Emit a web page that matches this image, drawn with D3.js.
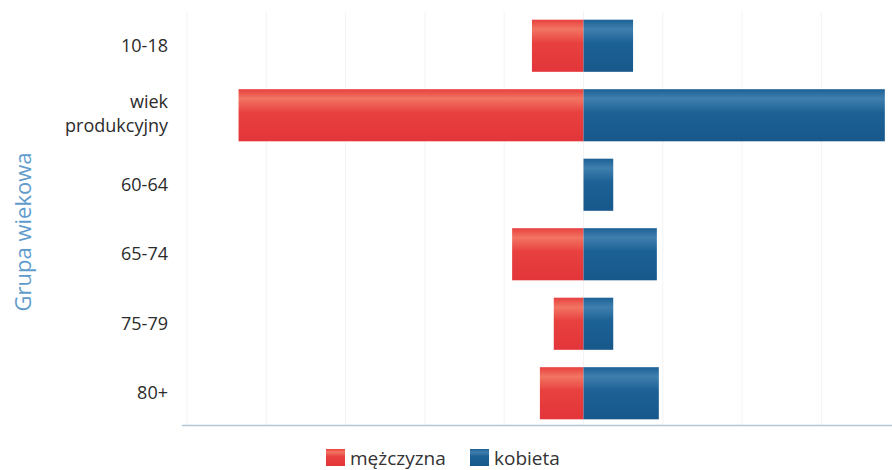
<!DOCTYPE html>
<html>
<head>
<meta charset="utf-8">
<script src="https://cdn.jsdelivr.net/npm/d3@7"></script>
<style>
  body { margin: 0; background: #fff; }
  svg { display: block; font-family: "Open Sans", sans-serif; }
</style>
</head>
<body>
<svg id="chart" width="892" height="470"></svg>
<script>
const width = 892,
  height = 470;

// age groups, top to bottom
const groups = ["10-18", "wiek produkcyjny", "60-64", "65-74", "75-79", "80+"];
const men = [26, 174, 0, 36, 15, 22];
const women = [25, 152, 15, 37, 15, 38];
const seriesNames = ["mężczyzna", "kobieta"];
const xTicks = [-200, -160, -120, -80, -40, 0, 40, 80, 120, 160, 200];

const svg = d3.select("#chart");

// plot continues past the right edge of the picture (it is cropped)
const x = d3.scaleLinear().domain([-200, 200]).range([187, 980]);
const y = d3.scaleBand().domain(groups).range([11, 428]).paddingInner(0.25).paddingOuter(0.125);

// gradients for the slightly glossy bars
const defs = svg.append("defs");
const addGrad = (id, light, base, dark) => {
  const g = defs.append("linearGradient").attr("id", id)
    .attr("x1", 0).attr("y1", 0).attr("x2", 0).attr("y2", 1);
  g.append("stop").attr("offset", "0%").attr("stop-color", base);
  g.append("stop").attr("offset", "18%").attr("stop-color", light);
  g.append("stop").attr("offset", "45%").attr("stop-color", base);
  g.append("stop").attr("offset", "100%").attr("stop-color", dark);
};
addGrad("gMen", "#f27562", "#e8403f", "#e3353a");
addGrad("gWomen", "#3f7fae", "#1c6195", "#18588b");

// grid
svg.append("g")
  .selectAll("line")
  .data(xTicks)
  .join("line")
  .attr("x1", d => x(d))
  .attr("x2", d => x(d))
  .attr("y1", 12)
  .attr("y2", 425)
  .attr("stroke", "#f3f3f3")
  .attr("stroke-width", 1);

// bottom axis line
svg.append("line")
  .attr("x1", 182).attr("x2", width)
  .attr("y1", 425.5).attr("y2", 425.5)
  .attr("stroke", "#b4c6d4")
  .attr("stroke-width", 1.5);

const rows = groups.map((g, i) => ({ group: g, men: men[i], women: women[i] }));

svg.append("g")
  .selectAll("rect")
  .data(rows.filter(d => d.men > 0))
  .join("rect")
  .attr("x", d => x(-d.men))
  .attr("y", d => y(d.group))
  .attr("width", d => x(0) - x(-d.men))
  .attr("height", y.bandwidth())
  .attr("fill", "url(#gMen)");

svg.append("g")
  .selectAll("rect")
  .data(rows.filter(d => d.women > 0))
  .join("rect")
  .attr("x", x(0))
  .attr("y", d => y(d.group))
  .attr("width", d => x(d.women) - x(0))
  .attr("height", y.bandwidth())
  .attr("fill", "url(#gWomen)");

// category labels
const labels = svg.append("g")
  .attr("text-anchor", "end")
  .attr("fill", "#2b2b2b")
  .style("font-size", "18px");

groups.forEach(g => {
  const cy = y(g) + y.bandwidth() / 2;
  if (g === "wiek produkcyjny") {
    labels.append("text").attr("x", 168).attr("y", cy - 7).text("wiek");
    labels.append("text").attr("x", 168).attr("y", cy + 17).text("produkcyjny");
  } else {
    labels.append("text").attr("x", 168).attr("y", cy + 6).text(g);
  }
});

// axis title
svg.append("text")
  .attr("transform", "translate(31,232) rotate(-90)")
  .attr("text-anchor", "middle")
  .attr("fill", "#5f9ccc")
  .style("font-size", "22px")
  .text("Grupa wiekowa");

// legend
const legend = svg.append("g").style("font-size", "19px").attr("fill", "#333");
const legendX = [326, 470];
seriesNames.forEach((name, i) => {
  legend.append("rect")
    .attr("x", legendX[i]).attr("y", 449)
    .attr("width", 19).attr("height", 17)
    .attr("fill", i === 0 ? "url(#gMen)" : "url(#gWomen)");
  legend.append("text")
    .attr("x", legendX[i] + 24).attr("y", 465)
    .text(name);
});
</script>
</body>
</html>
